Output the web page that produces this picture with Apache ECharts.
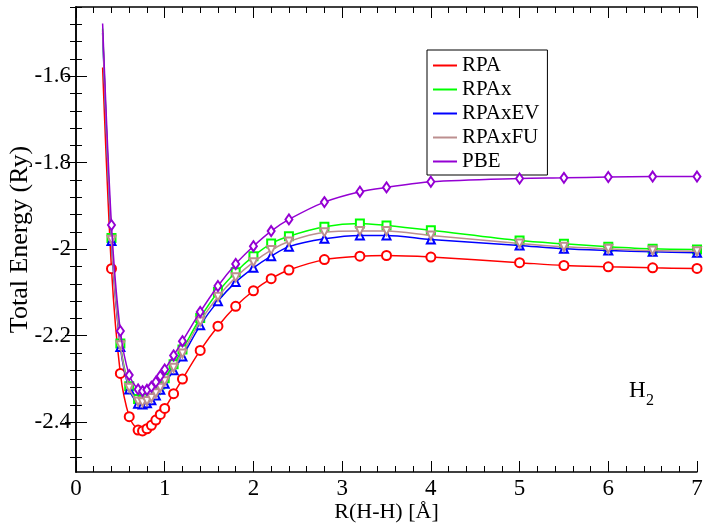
<!DOCTYPE html>
<html>
<head>
<meta charset="utf-8">
<script src="https://cdn.jsdelivr.net/npm/echarts@6/dist/echarts.min.js"></script>
<style>html,body{margin:0;padding:0;background:#fff}#c{width:704px;height:524px}</style>
</head>
<body>
<div id="c"></div>
<script>
const R = [0.3, 0.4, 0.5, 0.6, 0.7, 0.75, 0.8, 0.85, 0.9, 0.95, 1.0, 1.1, 1.2, 1.4, 1.6, 1.8, 2.0, 2.2, 2.4, 2.8, 3.2, 3.5, 4.0, 5.0, 5.5, 6.0, 6.5, 7.0];
const RPA = [-1.58, -2.045, -2.287, -2.387, -2.418, -2.420, -2.415, -2.407, -2.395, -2.382, -2.368, -2.334, -2.300, -2.234, -2.178, -2.132, -2.096, -2.068, -2.048, -2.024, -2.016, -2.0145, -2.018, -2.031, -2.0376, -2.0406, -2.043, -2.0445];
const RPAx = [-1.49, -1.974, -2.218, -2.317, -2.346, -2.348, -2.345, -2.337, -2.326, -2.313, -2.298, -2.266, -2.232, -2.159, -2.099, -2.053, -2.016, -1.987, -1.970, -1.948, -1.9405, -1.945, -1.956, -1.980, -1.9875, -1.994, -1.999, -2.0006];
const RPAxEV = [-1.50, -1.981, -2.226, -2.324, -2.357, -2.359, -2.356, -2.349, -2.338, -2.325, -2.311, -2.280, -2.248, -2.176, -2.120, -2.076, -2.043, -2.016, -1.994, -1.976, -1.968, -1.968, -1.9775, -1.9914, -1.999, -2.003, -2.006, -2.008];
const RPAxFU = [-1.495, -1.978, -2.222, -2.320, -2.352, -2.354, -2.351, -2.344, -2.333, -2.320, -2.305, -2.274, -2.241, -2.167, -2.110, -2.065, -2.030, -2.002, -1.982, -1.961, -1.958, -1.958, -1.968, -1.9867, -1.9944, -1.999, -2.003, -2.0045];
const PBE = [-1.478, -1.944, -2.189, -2.291, -2.324, -2.328, -2.325, -2.318, -2.307, -2.293, -2.278, -2.2456, -2.2126, -2.145, -2.085, -2.034, -1.993, -1.958, -1.931, -1.891, -1.867, -1.857, -1.844, -1.8365, -1.835, -1.833, -1.832, -1.832];

const seriesNames = ['RPA', 'RPAx', 'RPAxEV', 'RPAxFU', 'PBE'];
const xMajorTicks = [0, 1, 2, 3, 4, 5, 6, 7];
const yMajorTicks = [-2.4, -2.2, -2.0, -1.8, -1.6];
const xMinorStep = 0.2;
const yMinorStep = 0.04;

const X_MIN = 0, X_MAX = 7, Y_MIN = -2.515, Y_MAX = -1.44;
const FONT = 'Liberation Serif';

function minorTicks(lo, hi, start, step, majors) {
  const out = [];
  for (let k = 0; ; k++) {
    const v = +(start + k * step).toFixed(6);
    if (v > hi + 1e-9) break;
    if (v < lo - 1e-9) continue;
    if (majors.some(m => Math.abs(m - v) < 1e-6)) continue;
    out.push(v);
  }
  return out;
}
const xMinor = minorTicks(X_MIN, X_MAX, 0, xMinorStep, xMajorTicks);
const yMinor = minorTicks(Y_MIN, Y_MAX, -2.52, yMinorStep, yMajorTicks);

function mkData(arr) {
  return R.map((x, i) => i === 0 ? { value: [x, arr[i]], symbol: 'none' } : [x, arr[i]]);
}

const lineAxis = { show: true, lineStyle: { color: '#000', width: 1.5 } };
function xAx(pos, major, label) {
  return {
    type: 'value', position: pos, min: X_MIN, max: X_MAX, gridIndex: 0,
    axisLine: major ? lineAxis : { show: false },
    axisTick: { show: true, inside: true, length: major ? 11 : 6, customValues: major ? xMajorTicks : xMinor, lineStyle: { color: '#000', width: 1 } },
    axisLabel: label ? { show: true, customValues: xMajorTicks, fontFamily: FONT, fontSize: 23, color: '#000', margin: 5 } : { show: false },
    splitLine: { show: false },
    name: label ? 'R(H-H) [Å]' : '', nameLocation: 'middle', nameGap: 29, nameMoveOverlap: false,
    nameTextStyle: { fontFamily: FONT, fontSize: 22, color: '#000', lineHeight: 22 }
  };
}
function yAx(pos, major, label) {
  return {
    type: 'value', position: pos, min: Y_MIN, max: Y_MAX, gridIndex: 0,
    axisLine: major ? lineAxis : { show: false },
    axisTick: { show: true, inside: true, length: major ? 11 : 6, customValues: major ? yMajorTicks : yMinor, lineStyle: { color: '#000', width: 1 } },
    axisLabel: label ? { show: true, customValues: yMajorTicks, fontFamily: FONT, fontSize: 23, color: '#000', margin: 5, formatter: v => String(+v.toFixed(2)) } : { show: false },
    splitLine: { show: false },
    name: label ? 'Total Energy (Ry)' : '', nameLocation: 'middle', nameGap: 43, nameMoveOverlap: false,
    nameTextStyle: { fontFamily: FONT, fontSize: 26, color: '#000' }
  };
}

const colors = ['#ff0000', '#00ff00', '#0000ff', '#bc8f8f', '#9400d3'];
const symbols = [
  { symbol: 'emptyCircle', symbolSize: 9, symbolRotate: 0 },
  { symbol: 'emptyRect', symbolSize: 8, symbolRotate: 0 },
  { symbol: 'emptyTriangle', symbolSize: 8, symbolRotate: 0 },
  { symbol: 'emptyTriangle', symbolSize: 8, symbolRotate: 180 },
  { symbol: 'emptyDiamond', symbolSize: [7, 10], symbolRotate: 0 }
];
const dataSets = [RPA, RPAx, RPAxEV, RPAxFU, PBE];

const chart = echarts.init(document.getElementById('c'), null, { renderer: 'canvas' });
chart.setOption({
  backgroundColor: '#fff',
  animation: false,
  textStyle: { fontFamily: FONT, color: '#000' },
  grid: { left: 76, right: 7, top: 7, bottom: 52, containLabel: false, outerBoundsMode: 'none' },
  xAxis: [xAx('bottom', true, true), xAx('bottom', false, false), xAx('top', true, false), xAx('top', false, false)],
  yAxis: [yAx('left', true, true), yAx('left', false, false), yAx('right', true, false), yAx('right', false, false)],
  legend: {
    orient: 'vertical', left: 427, top: 50,
    data: seriesNames,
    icon: 'path://M0,0H24V2H0Z', itemWidth: 24, itemHeight: 2, itemGap: 3, itemTextGap: 11,
    textStyle: { fontFamily: FONT, fontSize: 21, color: '#000', lineHeight: 18 },
    borderColor: '#000', borderWidth: 1, backgroundColor: '#fff',
    padding: [5, 8, 3, 6]
  },
  graphic: [
    { type: 'text', left: 629, top: 379, style: { text: 'H', fontFamily: FONT, fontSize: 23, fill: '#000' } },
    { type: 'text', left: 646, top: 393, style: { text: '2', fontFamily: FONT, fontSize: 16, fill: '#000' } }
  ],
  series: seriesNames.map((name, i) => ({
    name, type: 'line', xAxisIndex: 0, yAxisIndex: 0,
    data: mkData(dataSets[i]),
    smooth: 0.3,
    symbol: symbols[i].symbol, symbolSize: symbols[i].symbolSize, symbolRotate: symbols[i].symbolRotate,
    lineStyle: { color: colors[i], width: 1.5 },
    itemStyle: { color: colors[i], borderWidth: 1 },
    color: colors[i],
    z: 2 + i
  }))
});
</script>
</body>
</html>
